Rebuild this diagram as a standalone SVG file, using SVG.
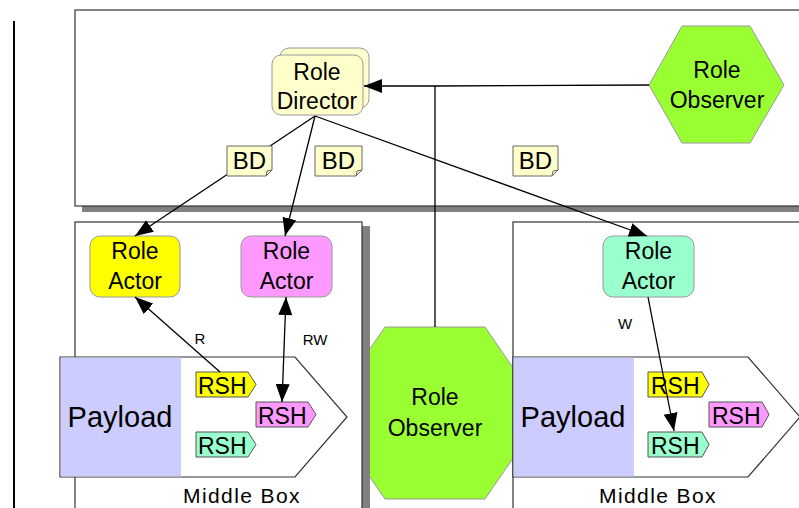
<svg xmlns="http://www.w3.org/2000/svg" width="799" height="508" viewBox="0 0 799 508">
<style>
text{font-family:"Liberation Sans",Arial,sans-serif;fill:#000;text-anchor:middle}
.lbl{font-size:23px}
.box{fill:#fff;stroke:#333;stroke-width:1.2}
.shadow{fill:#808080}
.node{stroke:#999;stroke-width:1}
.tag{stroke:#555;stroke-width:1}
.tagt{font-size:23px;text-anchor:start}
.note{fill:#ffffcc;stroke:#666;stroke-width:1}
.conn{fill:none;stroke:#000;stroke-width:1.3}
.small{font-size:15px}
.mb{font-size:21px;letter-spacing:1.4px}
</style>
<defs>
<marker id="arr" markerUnits="userSpaceOnUse" markerWidth="20" markerHeight="16" viewBox="0 -8 20 16" refX="18" refY="0" orient="auto">
<path d="M0,-7 L18,0 L0,7 Z" fill="#000"/>
</marker>
<marker id="arrs" markerUnits="userSpaceOnUse" markerWidth="20" markerHeight="16" viewBox="0 -8 20 16" refX="0" refY="0" orient="auto">
<path d="M18,-7 L0,0 L18,7 Z" fill="#000"/>
</marker>
</defs>
<rect width="799" height="508" fill="#fff"/>
<line x1="14" y1="21" x2="14" y2="508" stroke="#000" stroke-width="2"/>

<g id="top-box">
<rect class="shadow" x="82" y="16" width="730" height="196"/>
<rect class="box" x="75" y="10" width="740" height="196"/>
</g>

<g id="observer-center">
<polygon points="385,327 485,327 520,378 520,448 485,499 385,499 350,448 350,378" fill="#99ff33" stroke="#999"/>
<text class="lbl" x="435" y="405">Role</text>
<text class="lbl" x="435" y="436">Observer</text>
</g>

<g id="middle-box-left">
<rect class="shadow" x="362" y="226" width="8" height="290"/>
<rect class="box" x="75" y="222" width="287" height="290"/>
<text class="mb" x="242" y="503">Middle Box</text>
</g>
<g id="middle-box-right">
<rect class="box" x="513" y="222" width="300" height="290"/>
<text class="mb" x="658" y="503">Middle Box</text>
</g>

<g id="payload-left">
<polygon points="60,357 295,357 347,417 295,477 60,477" fill="#fff" stroke="#333" stroke-width="1.2"/>
<rect x="60.6" y="357.6" width="120.4" height="118.8" fill="#ccccff"/>
<text x="120" y="427" style="font-size:29px">Payload</text>
</g>
<g id="rsh-left-yellow">
<polygon class="tag" points="196,372 248,372 256,384.5 248,397 196,397" fill="#ffff00"/>
<text class="tagt" x="198" y="394">RSH</text>
</g>
<g id="rsh-left-pink">
<polygon class="tag" points="256,402 308,402 316,414.5 308,427 256,427" fill="#ff99ff"/>
<text class="tagt" x="258" y="424">RSH</text>
</g>
<g id="rsh-left-teal">
<polygon class="tag" points="196,432 248,432 256,444.5 248,457 196,457" fill="#99ffcc"/>
<text class="tagt" x="198" y="454">RSH</text>
</g>

<g id="payload-right">
<polygon points="513,357 748,357 800,417 748,477 513,477" fill="#fff" stroke="#333" stroke-width="1.2"/>
<rect x="513.6" y="357.6" width="120.4" height="118.8" fill="#ccccff"/>
<text x="573" y="427" style="font-size:29px">Payload</text>
</g>
<g id="rsh-right-yellow">
<polygon class="tag" points="648,372 702,372 709,384.5 702,397 648,397" fill="#ffff00"/>
<text class="tagt" x="651" y="394">RSH</text>
</g>
<g id="rsh-right-pink">
<polygon class="tag" points="709,402 762,402 769,414.5 762,427 709,427" fill="#ff99ff"/>
<text class="tagt" x="712" y="424">RSH</text>
</g>
<g id="rsh-right-teal">
<polygon class="tag" points="648,432 702,432 709,444.5 702,457 648,457" fill="#99ffcc"/>
<text class="tagt" x="651" y="454">RSH</text>
</g>

<g id="director">
<rect class="node" x="280" y="48" width="89" height="60" rx="9" fill="#ffffcc"/>
<rect class="node" x="272" y="55" width="91" height="60" rx="9" fill="#ffffcc"/>
<text class="lbl" x="317" y="80">Role</text>
<text class="lbl" x="317" y="109">Director</text>
</g>

<g id="observer-top">
<polygon points="649,85 682,26 750,26 784,85 750,143 682,143" fill="#99ff33" stroke="#999"/>
<text class="lbl" x="717" y="78">Role</text>
<text class="lbl" x="717" y="108">Observer</text>
</g>

<g id="actor-yellow">
<rect class="node" x="90" y="236" width="90" height="61" rx="10" fill="#ffff00"/>
<text class="lbl" x="135" y="259">Role</text>
<text class="lbl" x="135" y="289">Actor</text>
</g>
<g id="actor-pink">
<rect class="node" x="241" y="236" width="91" height="61" rx="10" fill="#ff99ff"/>
<text class="lbl" x="286.5" y="259">Role</text>
<text class="lbl" x="286.5" y="289">Actor</text>
</g>
<g id="actor-teal">
<rect class="node" x="603" y="236" width="91" height="61" rx="10" fill="#99ffcc"/>
<text class="lbl" x="648.5" y="259">Role</text>
<text class="lbl" x="648.5" y="289">Actor</text>
</g>

<g id="connectors">
<polyline class="conn" points="435,327 435,86 364,86" marker-end="url(#arr)"/>
<line class="conn" x1="649" y1="85" x2="435" y2="86"/>
<line class="conn" x1="315" y1="116" x2="135" y2="236" marker-end="url(#arr)"/>
<line class="conn" x1="315" y1="116" x2="285" y2="236" marker-end="url(#arr)"/>
<line class="conn" x1="315" y1="116" x2="647" y2="236" marker-end="url(#arr)"/>
<line class="conn" x1="220" y1="372" x2="135" y2="297" marker-end="url(#arr)"/>
<line class="conn" x1="286" y1="297" x2="282" y2="402" marker-start="url(#arrs)" marker-end="url(#arr)"/>
<line class="conn" x1="648" y1="297" x2="674" y2="431" marker-end="url(#arr)"/>
<text class="small" x="200" y="344">R</text>
<text class="small" x="315" y="345">RW</text>
<text class="small" x="625" y="329">W</text>
</g>

<g id="note-bd-1">
<path class="note" d="M227,146 H272 V170 L266,176 H227 Z"/>
<path d="M266,176 L267,171 L272,170" fill="none" stroke="#666"/>
<text x="249.5" y="169" style="font-size:24px">BD</text>
</g>
<g id="note-bd-2">
<path class="note" d="M315,146 H362 V170 L356,176 H315 Z"/>
<path d="M356,176 L357,171 L362,170" fill="none" stroke="#666"/>
<text x="338.5" y="169" style="font-size:24px">BD</text>
</g>
<g id="note-bd-3">
<path class="note" d="M513,146 H558 V170 L552,176 H513 Z"/>
<path d="M552,176 L553,171 L558,170" fill="none" stroke="#666"/>
<text x="535.5" y="169" style="font-size:24px">BD</text>
</g>
</svg>
